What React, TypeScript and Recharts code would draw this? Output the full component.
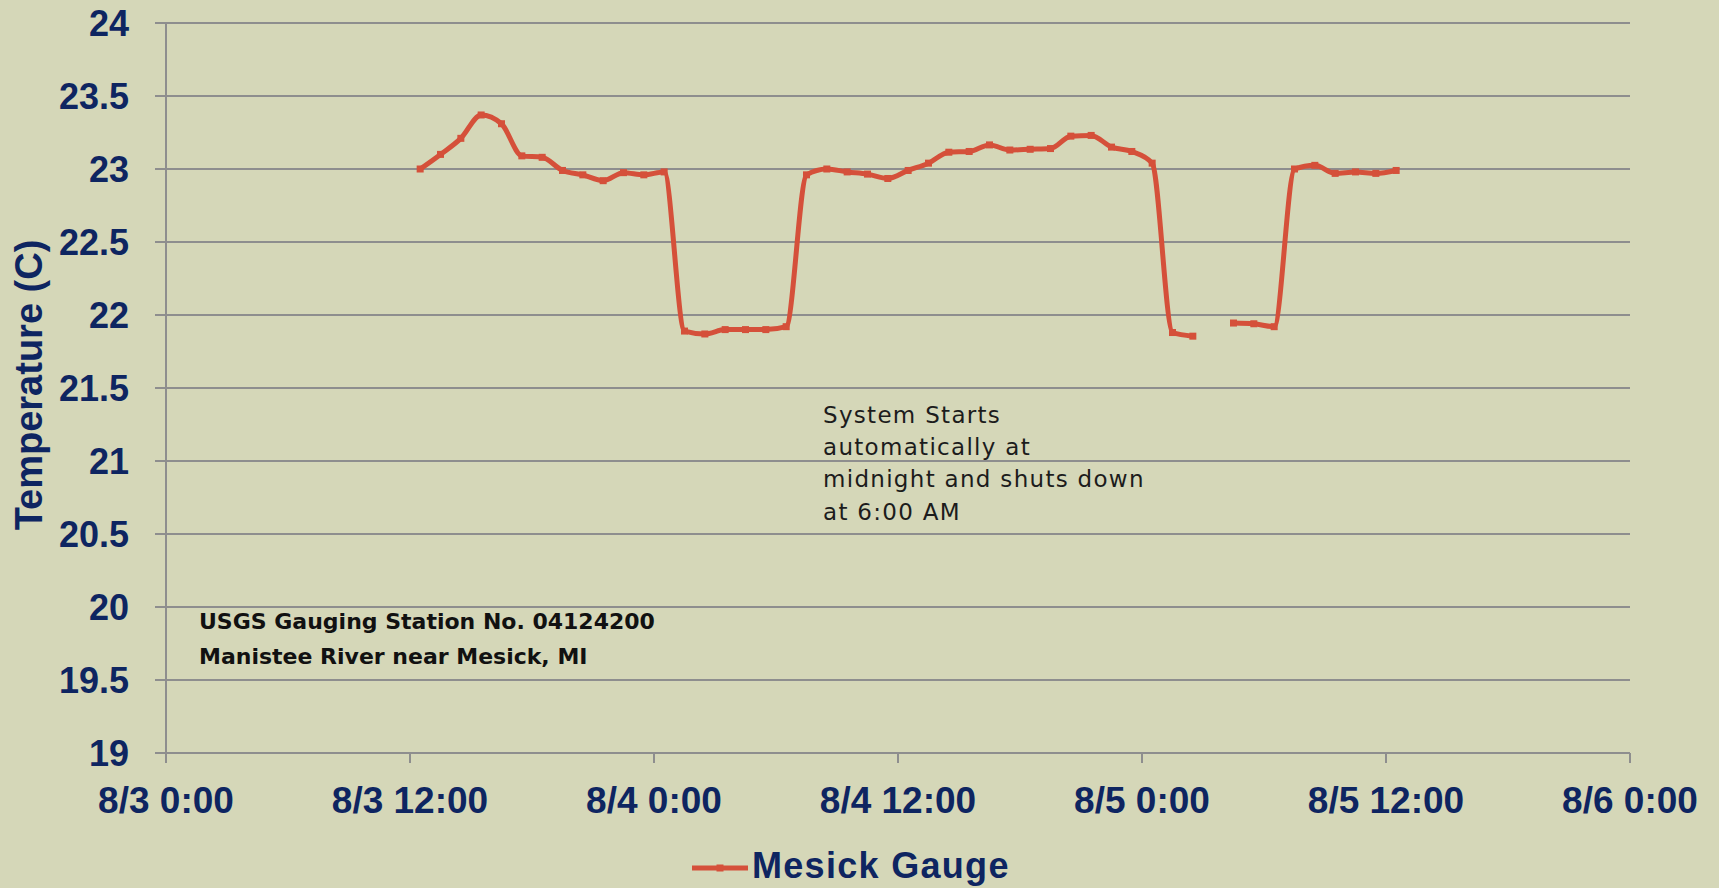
import React from 'react';
import { LineChart, Line, XAxis, YAxis, CartesianGrid } from 'recharts';

// hours since 8/3 0:00
const hours = [
  12.5, 13.5, 14.5, 15.5, 16.5, 17.5, 18.5, 19.5, 20.5, 21.5, 22.5, 23.5,
  24.5, 25.5, 26.5, 27.5, 28.5, 29.5, 30.5, 31.5, 32.5, 33.5, 34.5, 35.5,
  36.5, 37.5, 38.5, 39.5, 40.5, 41.5, 42.5, 43.5, 44.5, 45.5, 46.5, 47.5,
  48.5, 49.5, 50.5, 51.5, 52.5, 53.5, 54.5, 55.5, 56.5, 57.5, 58.5, 59.5, 60.5,
];
const mesickGauge: (number | null)[] = [
  23.0, 23.1, 23.21, 23.37, 23.31, 23.09, 23.08, 22.99, 22.96, 22.92, 22.975, 22.96,
  22.98, 21.89, 21.87, 21.9, 21.9, 21.9, 21.92, 22.96, 23.0, 22.98, 22.965, 22.935,
  22.99, 23.04, 23.115, 23.12, 23.165, 23.13, 23.135, 23.14, 23.225, 23.23, 23.15, 23.12,
  23.04, 21.88, 21.855, null, 21.945, 21.94, 21.92, 23.0, 23.025, 22.97, 22.98, 22.97, 22.99,
];
const xTicks = [0, 12, 24, 36, 48, 60, 72];
const xTickLabels = ['8/3 0:00', '8/3 12:00', '8/4 0:00', '8/4 12:00', '8/5 0:00', '8/5 12:00', '8/6 0:00'];
const yTicks = [19, 19.5, 20, 20.5, 21, 21.5, 22, 22.5, 23, 23.5, 24];
const seriesName = 'Mesick Gauge';
const yTitle = 'Temperature (C)';
const noteLines = ['System Starts', 'automatically at', 'midnight and shuts down', 'at 6:00 AM'];
const stationLines = ['USGS Gauging Station No. 04124200', 'Manistee River near Mesick, MI'];

const data = hours.map((t, i) => ({ t, temp: mesickGauge[i] }));

const BG = '#D5D7B8';
const NAVY = '#0E2561';
const RED = '#D5503A';
const GRID = '#8E8E8E';

const SquareDot = (props: any) => {
  const { cx, cy, index } = props;
  if (cx == null || cy == null || props.value == null) return <g key={`d${index}`} />;
  return <rect key={`d${index}`} x={cx - 3.5} y={cy - 3.5} width={7} height={7} fill={RED} />;
};

export default function App() {
  return (
    <div style={{ position: 'absolute', left: 0, top: 0, width: 1719, height: 888, background: BG }}>
      <LineChart width={1719} height={888} data={data} margin={{ top: 23, right: 89, left: 0, bottom: 75 }}>
        <CartesianGrid vertical={false} stroke={GRID} strokeWidth={2} />
        <XAxis
          dataKey="t"
          type="number"
          domain={[0, 72]}
          ticks={xTicks}
          interval={0}
          height={60}
          tickFormatter={(v: number) => xTickLabels[xTicks.indexOf(v)] ?? ''}
          axisLine={{ stroke: GRID, strokeWidth: 2 }}
          tickLine={{ stroke: GRID, strokeWidth: 2 }}
          tickSize={10}
          tickMargin={24}
          tick={{ fill: NAVY, fontSize: 37, fontWeight: 700, fontFamily: 'Liberation Sans, Arial, sans-serif' }}
        />
        <YAxis
          type="number"
          domain={[19, 24]}
          ticks={yTicks}
          interval={0}
          width={166}
          axisLine={{ stroke: GRID, strokeWidth: 2 }}
          tickLine={{ stroke: GRID, strokeWidth: 2 }}
          tickSize={11}
          tickMargin={26}
          tick={{ fill: NAVY, fontSize: 36, fontWeight: 700, fontFamily: 'Liberation Sans, Arial, sans-serif' }}
        />
        <Line
          dataKey="temp"
          name={seriesName}
          type="monotone"
          stroke={RED}
          strokeWidth={5}
          dot={SquareDot}
          activeDot={false}
          connectNulls={false}
          isAnimationActive={false}
        />
        <text
          x={28.5}
          y={385}
          transform="rotate(-90, 28.5, 385)"
          textAnchor="middle"
          dominantBaseline="central"
          fill={NAVY}
          fontSize={38}
          fontWeight={700}
          fontFamily="Liberation Sans, Arial, sans-serif"
        >
          {yTitle}
        </text>
        {noteLines.map((s, i) => (
          <text key={`n${i}`} x={823} y={423 + i * 32.2} fill="#1c1c1c" fontSize={23} letterSpacing={1.3}
            fontFamily="DejaVu Sans, sans-serif">
            {s}
          </text>
        ))}
        {stationLines.map((s, i) => (
          <text key={`s${i}`} x={199} y={628.5 + i * 35} fill="#111" fontSize={22} fontWeight={700}
            fontFamily="DejaVu Sans, sans-serif">
            {s}
          </text>
        ))}
        <line x1={692} y1={868} x2={748} y2={868} stroke={RED} strokeWidth={5} />
        <rect x={716.5} y={864.5} width={7} height={7} fill={RED} />
        <text x={752} y={878} fill={NAVY} fontSize={36} fontWeight={700} letterSpacing={1.3}
          fontFamily="Liberation Sans, Arial, sans-serif">
          {seriesName}
        </text>
      </LineChart>
    </div>
  );
}
